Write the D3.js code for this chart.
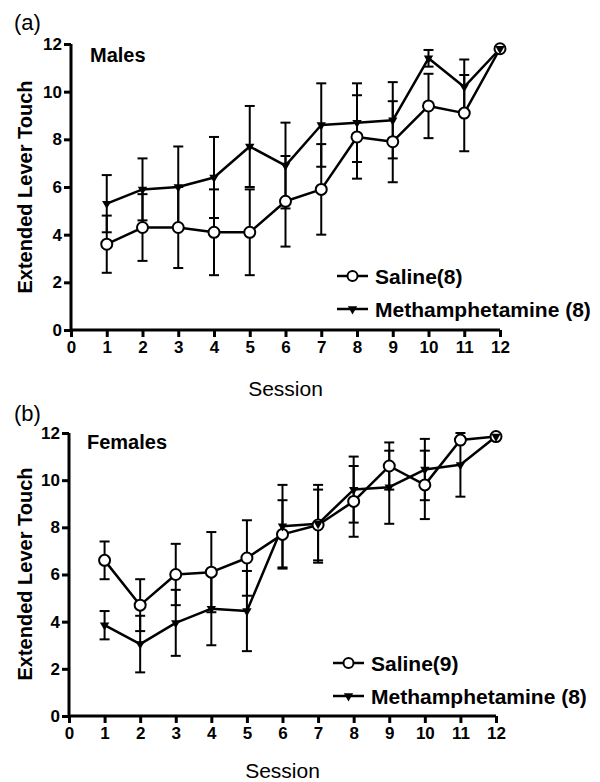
<!DOCTYPE html>
<html><head><meta charset="utf-8">
<script src="https://cdn.jsdelivr.net/npm/d3@7"></script>
<style>body{margin:0;background:#fff}svg{display:block}text{font-family:"Liberation Sans",Arial,sans-serif;fill:#000}</style>
</head><body>
<svg id="chart" width="600" height="782"></svg>
<script>
const sessions = [1,2,3,4,5,6,7,8,9,10,11,12];
const xTicks = [0,1,2,3,4,5,6,7,8,9,10,11,12];
const yTicks = [0,2,4,6,8,10,12];
const maleSaline = [3.6,4.3,4.3,4.1,4.1,5.4,5.9,8.1,7.9,9.4,9.1,11.8];
const maleSalineSem = [1.2,1.4,1.7,1.8,1.8,1.9,1.9,1.75,1.7,1.35,1.6,0];
const maleMeth = [5.3,5.9,6.0,6.4,7.7,6.9,8.6,8.7,8.8,11.4,10.2,11.8];
const maleMethSem = [1.2,1.3,1.7,1.7,1.7,1.8,1.75,1.65,1.6,0.35,1.15,0];
const femaleSaline = [6.6,4.7,6.0,6.1,6.7,7.7,8.1,9.1,10.6,9.8,11.7,11.85];
const femaleSalineSem = [0.8,1.1,1.3,1.7,1.6,1.45,1.5,1.5,1.0,1.45,0,0];
const femaleMeth = [3.85,3.05,3.95,4.55,4.45,8.05,8.15,9.6,9.7,10.45,10.65,11.85];
const femaleMethSem = [0.6,1.2,1.4,1.55,1.7,1.75,1.65,1.4,1.55,1.3,1.35,0];
const panels = [
  {tag:"(a)", title:"Males", saline:maleSaline, salineSem:maleSalineSem, meth:maleMeth, methSem:maleMethSem,
   salineLabel:"Saline(8)", methLabel:"Methamphetamine (8)"},
  {tag:"(b)", title:"Females", saline:femaleSaline, salineSem:femaleSalineSem, meth:femaleMeth, methSem:femaleMethSem,
   salineLabel:"Saline(9)", methLabel:"Methamphetamine (8)"}
];
const layout = [
  {x0:71, x1:500, y0:330, y1:44, tagY:30, titleX:90, titleY:62, ylabY:187, sessY:396, legX:337, legY:276},
  {x0:69, x1:496, y0:716, y1:433, tagY:421, titleX:87, titleY:449, ylabY:574, sessY:778, legX:333, legY:663}
];
const svg = d3.select("#chart");
const tri = d3.symbol().type(d3.symbolTriangle).size(38);

panels.forEach((p, i) => {
  const L = layout[i];
  const g = svg.append("g");
  const x = d3.scaleLinear().domain([0,12]).range([L.x0, L.x1]);
  const y = d3.scaleLinear().domain([0,12]).range([L.y0, L.y1]);

  g.append("text").attr("x",14).attr("y",L.tagY).attr("font-size",22).text(p.tag);

  const xa = g.append("g").attr("transform",`translate(0,${L.y0})`)
    .call(d3.axisBottom(x).tickValues(xTicks).tickSize(7).tickPadding(4).tickFormat(d3.format("d")));
  const ya = g.append("g").attr("transform",`translate(${L.x0},0)`)
    .call(d3.axisLeft(y).tickValues(yTicks).tickSize(7).tickPadding(2).tickFormat(d3.format("d")));
  [xa,ya].forEach(a=>{
    a.select(".domain").attr("stroke","#000").attr("stroke-width",3);
    a.selectAll(".tick line").attr("stroke","#000").attr("stroke-width",3);
    a.selectAll(".tick text").attr("font-size",17).attr("font-weight","bold").attr("font-family","Liberation Sans, Arial, sans-serif").attr("fill","#000");
  });
  xa.select(".domain").attr("d",`M${L.x0},0H${L.x1}`);
  ya.select(".domain").attr("d",`M0,${L.y0}V${L.y1}`);

  g.append("text").attr("x",L.titleX).attr("y",L.titleY).attr("font-size",20).attr("font-weight","bold").text(p.title);
  g.append("text").attr("transform",`translate(32,${L.ylabY}) rotate(-90)`).attr("text-anchor","middle")
    .attr("font-size",20).attr("font-weight","bold").text("Extended Lever Touch");
  g.append("text").attr("x",(L.x0+L.x1)/2).attr("y",L.sessY).attr("text-anchor","middle").attr("font-size",21).text("Session");

  const series = [
    {v:p.saline, s:p.salineSem, kind:"circ"},
    {v:p.meth, s:p.methSem, kind:"tri"}
  ];
  series.forEach(ser=>{
    const eb = g.append("g").attr("stroke","#000").attr("stroke-width",2);
    sessions.forEach((d,k)=>{
      if (ser.s[k] <= 0) return;
      const lo = y(ser.v[k]-ser.s[k]), hi = y(ser.v[k]+ser.s[k]), cx = x(d);
      eb.append("line").attr("x1",cx).attr("x2",cx).attr("y1",lo).attr("y2",hi);
      eb.append("line").attr("x1",cx-5).attr("x2",cx+5).attr("y1",lo).attr("y2",lo);
      eb.append("line").attr("x1",cx-5).attr("x2",cx+5).attr("y1",hi).attr("y2",hi);
    });
  });
  const line = d3.line().x((d,k)=>x(sessions[k])).y(d=>y(d));
  series.forEach(ser=>{
    g.append("path").datum(ser.v).attr("d",line).attr("fill","none").attr("stroke","#000").attr("stroke-width",2.5).attr("stroke-linejoin","round");
  });
  series.forEach(ser=>{
    sessions.forEach((d,k)=>{
      if (ser.kind==="circ") {
        g.append("circle").attr("cx",x(d)).attr("cy",y(ser.v[k])).attr("r",5.5).attr("fill","#fff").attr("stroke","#000").attr("stroke-width",2);
      } else {
        g.append("path").attr("d",tri).attr("transform",`translate(${x(d)},${y(ser.v[k])}) rotate(180)`).attr("fill","#000");
      }
    });
  });

  const lg = g.append("g");
  [{label:p.salineLabel, kind:"circ", dy:0},{label:p.methLabel, kind:"tri", dy:33}].forEach(it=>{
    const yy = L.legY + it.dy;
    lg.append("line").attr("x1",L.legX).attr("x2",L.legX+31).attr("y1",yy).attr("y2",yy).attr("stroke","#000").attr("stroke-width",2.5);
    if (it.kind==="circ") lg.append("circle").attr("cx",L.legX+15.5).attr("cy",yy).attr("r",5).attr("fill","#fff").attr("stroke","#000").attr("stroke-width",2);
    else lg.append("path").attr("d",tri).attr("transform",`translate(${L.legX+15.5},${yy}) rotate(180)`).attr("fill","#000");
    lg.append("text").attr("x",L.legX+38).attr("y",yy+7.5).attr("font-size",21).attr("font-weight","bold").text(it.label);
  });
});
</script>
</body></html>
